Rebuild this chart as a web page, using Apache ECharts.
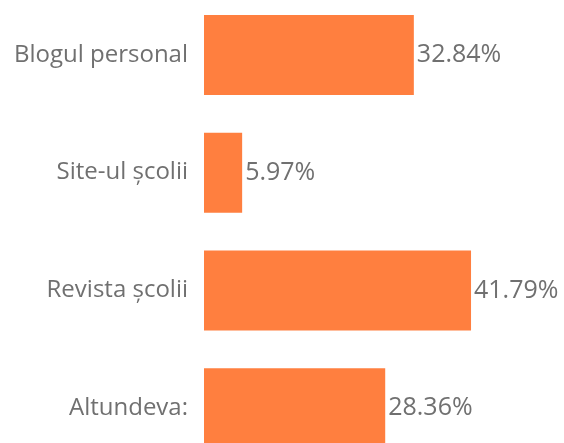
<!DOCTYPE html>
<html>
<head>
<meta charset="utf-8">
<script src="https://cdn.jsdelivr.net/npm/echarts@6/dist/echarts.min.js"></script>
<style>
  html, body { margin: 0; padding: 0; background: #fff; overflow: hidden; }
  #chart { width: 564px; height: 480px; margin-top: -4px; }
</style>
</head>
<body>
<div id="chart"></div>
<script>
var categories = ["Blogul personal", "Site-ul școlii", "Revista școlii", "Altundeva:"];
var values = [32.84, 5.97, 41.79, 28.36];

var myChart = echarts.init(document.getElementById("chart"));
var option = {
  animation: false,
  grid: {
    left: 204,
    top: 0,
    width: 360,
    height: 471
  },
  xAxis: {
    type: "value",
    min: 0,
    max: 56.34,
    show: false
  },
  yAxis: {
    type: "category",
    inverse: true,
    data: categories,
    axisLine: { show: false },
    axisTick: { show: false },
    axisLabel: {
      margin: 16,
      color: "#707070",
      fontFamily: "Open Sans",
      fontSize: 24
    }
  },
  series: [
    {
      type: "bar",
      data: values,
      barWidth: 80,
      itemStyle: { color: "#FF7F3F" },
      label: {
        show: true,
        position: "right",
        distance: 3,
        color: "#707070",
        fontFamily: "Open Sans",
        fontSize: 25,
        formatter: function (p) { return p.value.toFixed(2) + "%"; }
      }
    }
  ]
};
myChart.setOption(option);
</script>
</body>
</html>
